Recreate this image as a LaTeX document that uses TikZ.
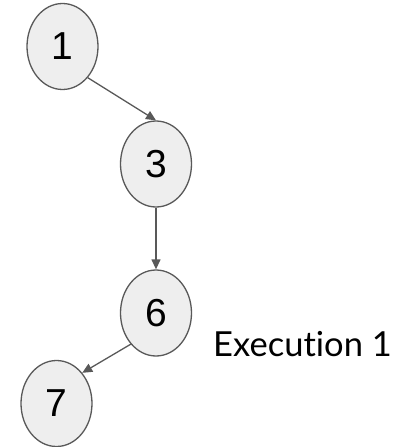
\documentclass[tikz,border=0pt]{standalone}
\usepackage{fontspec}
\setmainfont{Liberation Sans}
\newfontfamily\captionfont[Ligatures=NoCommon]{Lato}
\usetikzlibrary{arrows.meta,shapes.geometric}
\definecolor{edgegray}{HTML}{595959}
\definecolor{nodefill}{HTML}{EEEEEE}
\begin{document}
\begin{tikzpicture}[x=1pt,y=-1pt,
  vertex/.style={ellipse, draw=edgegray, fill=nodefill, line width=1.3pt,
    minimum width=71pt, minimum height=86pt, inner sep=0pt,
    font=\fontsize{39}{39}\selectfont},
  link/.style={draw=edgegray, line width=1.3pt, -{Triangle[length=10pt,width=9pt]}},
  caption/.style={font=\captionfont\fontsize{34.5}{34.5}\selectfont, inner sep=0pt, anchor=base west}]
  \useasboundingbox (0,0) rectangle (410,447);
  \node[vertex] (n1) at (62.5,46.5) {1};
  \node[vertex] (n3) at (156,164) {3};
  \node[vertex] (n6) at (156,313) {6};
  \node[vertex] (n7) at (56.5,403.5) {7};
  \node[caption] (ex) at (213,356) {Execution 1};
  \draw[link] (n1.-51) -- (n3.north);
  \draw[link] (n3.south) -- (n6.north);
  \draw[link] (n6.231) -- (n7.50);
\end{tikzpicture}
\end{document}
